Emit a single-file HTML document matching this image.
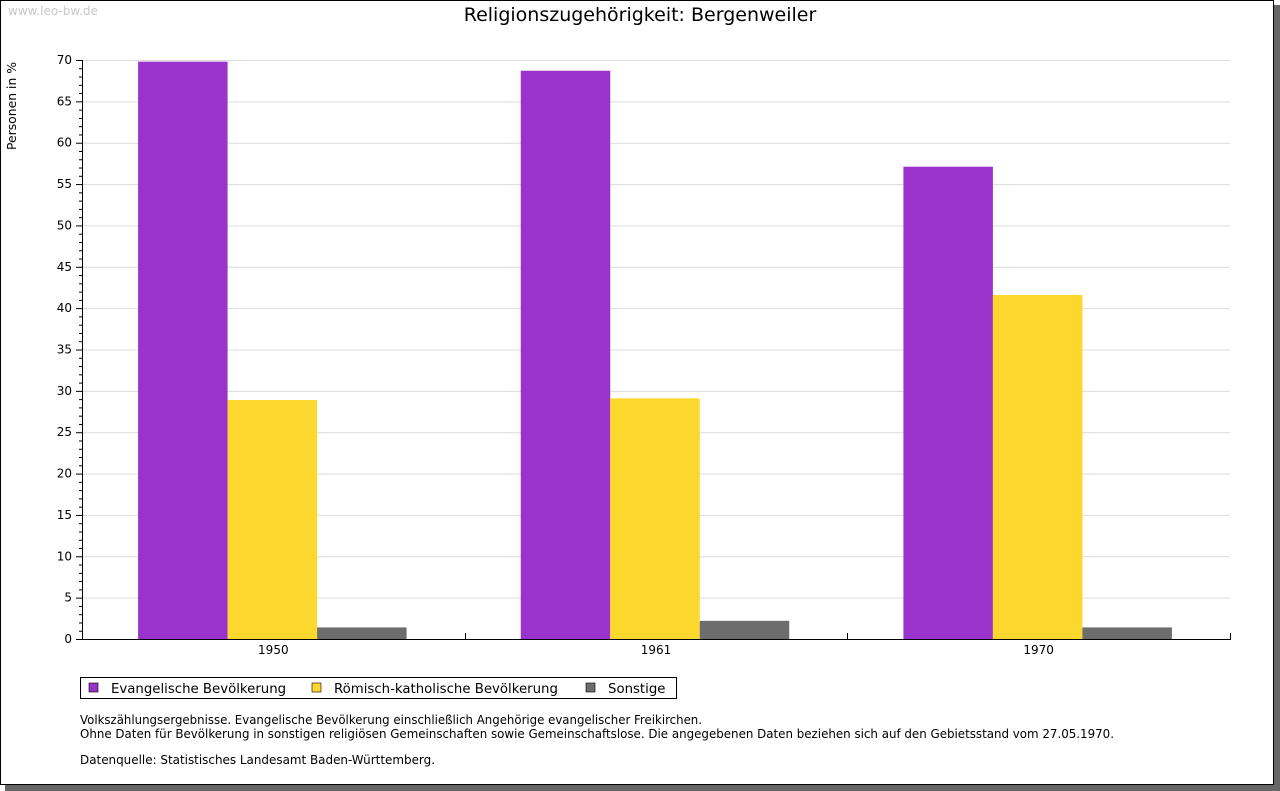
<!DOCTYPE html>
<html><head><meta charset="utf-8"><style>
html,body{margin:0;padding:0;background:#fff;}
svg{display:block;font-family:"DejaVu Sans","Liberation Sans",sans-serif;}
</style></head><body>
<svg id="c" width="1280" height="791" xmlns="http://www.w3.org/2000/svg">
<rect x="5" y="5" width="1275" height="786" fill="#666"/>
<rect x="0.5" y="0.5" width="1273" height="784" fill="#fff" stroke="#000"/>
<text x="8" y="15" font-size="12" fill="#c8c8c8">www.leo-bw.de</text>
<text x="640" y="21" font-size="19" text-anchor="middle" fill="#000">Religionszugehörigkeit: Bergenweiler</text>
<text transform="translate(16,106) rotate(-90)" font-size="12.4" text-anchor="middle">Personen in %</text>
<g id="grid"></g><g id="bars"></g><g id="axes"></g>
<g>
<rect x="80.5" y="677.5" width="596" height="21" fill="#fff" stroke="#000"/>
<rect x="89" y="683" width="9" height="9" fill="#9933cc" stroke="#000" stroke-width="0.6"/>
<text x="111" y="693" font-size="13.3">Evangelische Bevölkerung</text>
<rect x="312" y="683" width="9" height="9" fill="#fcd72e" stroke="#000" stroke-width="0.6"/>
<text x="334" y="693" font-size="13.3">Römisch-katholische Bevölkerung</text>
<rect x="586" y="683" width="9" height="9" fill="#6d6d6d" stroke="#000" stroke-width="0.6"/>
<text x="608" y="693" font-size="13.3">Sonstige</text>
</g>
<g font-size="12">
<text x="80" y="724" textLength="622" lengthAdjust="spacingAndGlyphs">Volkszählungsergebnisse. Evangelische Bevölkerung einschließlich Angehörige evangelischer Freikirchen.</text>
<text x="80" y="738" textLength="1034" lengthAdjust="spacingAndGlyphs">Ohne Daten für Bevölkerung in sonstigen religiösen Gemeinschaften sowie Gemeinschaftslose. Die angegebenen Daten beziehen sich auf den Gebietsstand vom 27.05.1970.</text>
<text x="80" y="764" textLength="355" lengthAdjust="spacingAndGlyphs">Datenquelle: Statistisches Landesamt Baden-Württemberg.</text>
</g>
</svg>
<script>
const categories=["1950","1961","1970"];
const evangelisch=[69.8,68.7,57.1];
const katholisch=[28.9,29.1,41.6];
const sonstige=[1.4,2.2,1.4];
const yTicks=[0,5,10,15,20,25,30,35,40,45,50,55,60,65,70];
const NS="http://www.w3.org/2000/svg";
const X0=82,X1=1230,Y0=639,Y1=60,YMAX=70;
const y=v=>Y0-(v/YMAX)*(Y0-Y1);
const cw=(X1-X0)/categories.length;
const bw=89.5;
function mk(t,a,p){const e=document.createElementNS(NS,t);for(const k in a)e.setAttribute(k,a[k]);p.appendChild(e);return e;}
const grid=document.getElementById('grid'),bars=document.getElementById('bars'),axes=document.getElementById('axes');
yTicks.forEach(v=>{
 if(v>0){const l=mk('line',{x1:X0,x2:X1,y1:y(v)+.5,y2:y(v)+.5,stroke:'#dcdcdc'},grid);
 
 }
 mk('line',{x1:X0-6,x2:X0,y1:y(v)+.5,y2:y(v)+.5,stroke:'#000'},axes);
 const t=mk('text',{x:X0-10,y:y(v)+4,'font-size':12,'text-anchor':'end'},axes);t.textContent=v;
 
 
});
for(let v=1;v<YMAX;v++){if(v%5)mk('line',{x1:X0-3,x2:X0,y1:y(v)+.5,y2:y(v)+.5,stroke:'#000'},axes);}
const series=[[evangelisch,'#9933cc','evangelisch'],[katholisch,'#fcd72e','katholisch'],[sonstige,'#6d6d6d','sonstige']];
categories.forEach((c,i)=>{
 const start=X0+i*cw+cw/2-bw*1.5-1;
 series.forEach((s,j)=>{
  const r=mk('rect',{x:start+j*bw,y:y(s[0][i]),width:bw,height:Y0-y(s[0][i]),fill:s[1]},bars);
  
  
 });
 const t=mk('text',{x:X0+i*cw+cw/2,y:Y0+15,'font-size':12,'text-anchor':'middle'},axes);t.textContent=c;
 
 
 mk('line',{x1:Math.round(X0+(i+1)*cw)+.5,x2:Math.round(X0+(i+1)*cw)+.5,y1:Y0-6,y2:Y0,stroke:'#000'},axes);
});
const ya=mk('line',{x1:X0+.5,x2:X0+.5,y1:Y1,y2:Y0+1,stroke:'#000'},axes);


const xa=mk('line',{x1:X0,x2:X1+1,y1:Y0+.5,y2:Y0+.5,stroke:'#000'},axes);


</script>
</body></html>
